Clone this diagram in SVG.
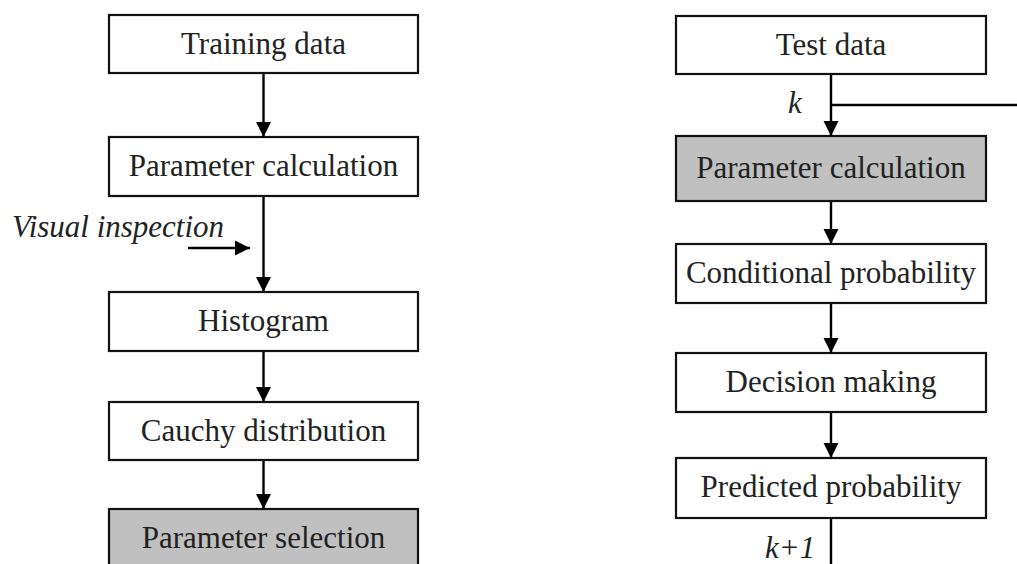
<svg xmlns="http://www.w3.org/2000/svg" width="1017" height="564" viewBox="0 0 1017 564">
<style>
.box{fill:#ffffff;stroke:#111;stroke-width:2.2}
.gray{fill:#c0c0c0}
.t{font-family:'Liberation Serif','Times New Roman',Times,'DejaVu Serif',serif;font-size:31px;fill:#222;text-anchor:middle}
.i{font-family:'Liberation Serif','Times New Roman',Times,'DejaVu Serif',serif;font-size:31px;fill:#222;font-style:italic}
.c{stroke:#000;stroke-width:2.4;fill:none}
</style>
<defs>
<marker id="ah" markerUnits="userSpaceOnUse" markerWidth="15" markerHeight="16" refX="15" refY="7.5" orient="auto" viewBox="0 0 15 15">
<path d="M0,0 L15,7.5 L0,15 Z" fill="#000"/>
</marker>
</defs>
<rect width="1017" height="564" fill="#ffffff"/>
<g id="n-training"><rect class="box" x="109" y="15" width="309" height="58"/><text class="t" x="263.5" y="54">Training data</text></g>
<g id="n-paramcalc1"><rect class="box" x="109" y="137" width="309" height="59"/><text class="t" x="263.5" y="176">Parameter calculation</text></g>
<g id="n-histogram"><rect class="box" x="109" y="292" width="309" height="59"/><text class="t" x="263.5" y="331">Histogram</text></g>
<g id="n-cauchy"><rect class="box" x="109" y="402" width="309" height="58"/><text class="t" x="263.5" y="441">Cauchy distribution</text></g>
<g id="n-paramsel"><rect class="box gray" x="109" y="509" width="309" height="70"/><text class="t" x="263.5" y="548">Parameter selection</text></g>
<g id="n-test"><rect class="box" x="676" y="16" width="310" height="58"/><text class="t" x="831" y="55">Test data</text></g>
<g id="n-paramcalc2"><rect class="box gray" x="676" y="136" width="310" height="65"/><text class="t" x="831" y="178">Parameter calculation</text></g>
<g id="n-cond"><rect class="box" x="676" y="244" width="310" height="59"/><text class="t" x="831" y="283">Conditional probability</text></g>
<g id="n-decision"><rect class="box" x="676" y="353" width="310" height="59"/><text class="t" x="831" y="392">Decision making</text></g>
<g id="n-predicted"><rect class="box" x="676" y="458" width="310" height="60"/><text class="t" x="831" y="497">Predicted probability</text></g>
<g id="connectors">
<line class="c" x1="263.5" y1="74" x2="263.5" y2="137" marker-end="url(#ah)"/>
<line class="c" x1="263.5" y1="197" x2="263.5" y2="292" marker-end="url(#ah)"/>
<line class="c" x1="188" y1="248" x2="250" y2="248" marker-end="url(#ah)"/>
<line class="c" x1="263.5" y1="352" x2="263.5" y2="402" marker-end="url(#ah)"/>
<line class="c" x1="263.5" y1="461" x2="263.5" y2="509" marker-end="url(#ah)"/>
<line class="c" x1="831" y1="75" x2="831" y2="136" marker-end="url(#ah)"/>
<line class="c" x1="831" y1="105" x2="1017" y2="105"/>
<line class="c" x1="831" y1="202" x2="831" y2="244" marker-end="url(#ah)"/>
<line class="c" x1="831" y1="304" x2="831" y2="353" marker-end="url(#ah)"/>
<line class="c" x1="831" y1="413" x2="831" y2="458" marker-end="url(#ah)"/>
<line class="c" x1="831" y1="519" x2="831" y2="564"/>
<text class="i" x="12" y="237">Visual inspection</text>
<text class="i" x="788" y="113">k</text>
<text class="i" x="765" y="558">k+1</text>
</g>
</svg>
